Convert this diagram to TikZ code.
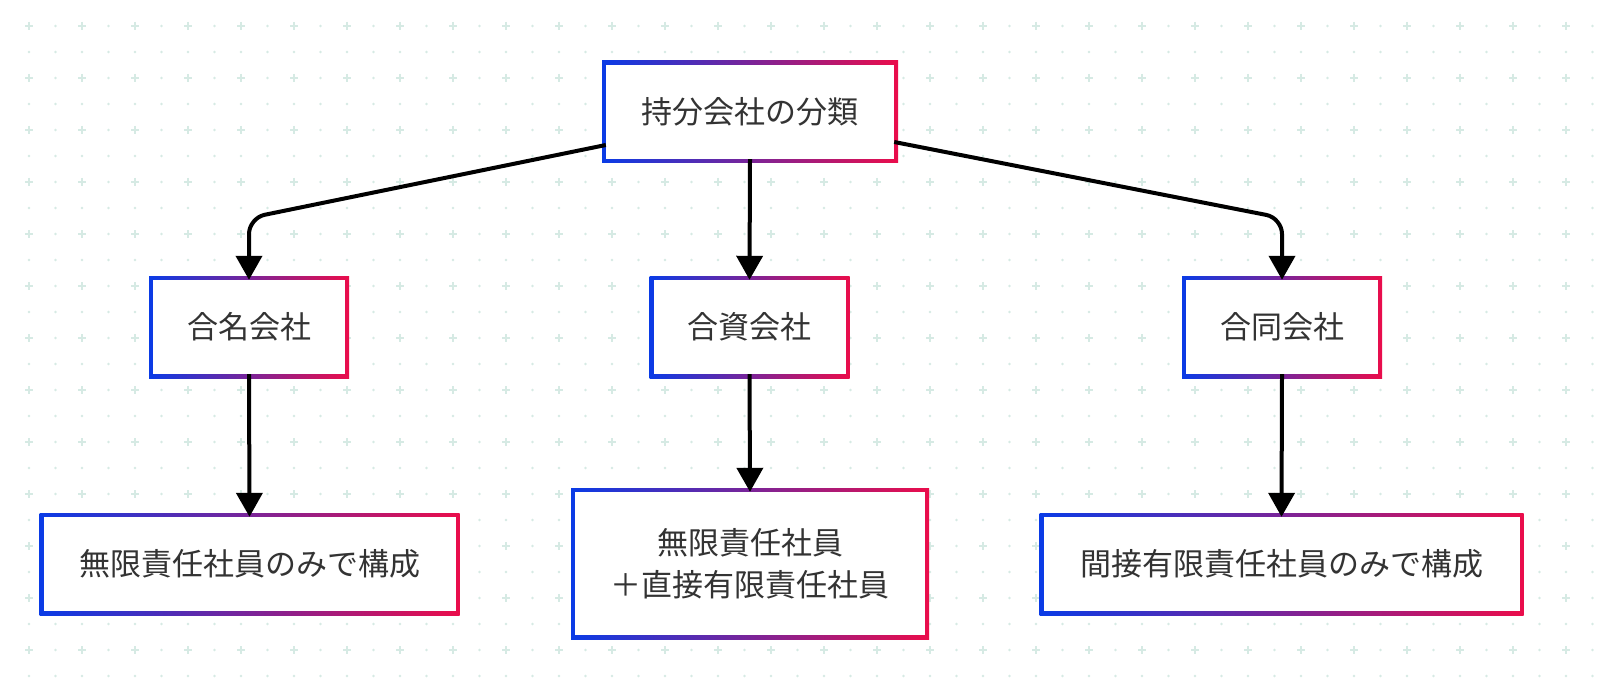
\documentclass[tikz,border=0pt]{standalone}
\usepackage{fontspec}
\setmainfont{Noto Sans CJK JP}
\usetikzlibrary{arrows.meta}
\definecolor{lb}{HTML}{0A3BE6}
\definecolor{rr}{HTML}{EA0D4B}
\definecolor{tx}{HTML}{333333}
\definecolor{gr}{HTML}{D6EAE4}
\tikzset{
  box/.style={fill=white,draw=none,inner sep=0pt,text=tx,font=\fontsize{31}{42}\selectfont,align=center},
  conn/.style={line width=4pt,black,rounded corners=16pt,-{Triangle[length=24pt,width=26pt]}},
}
\newcommand{\gbox}[6]{% name, x, y, w, h, text
  \shade[left color=lb,right color=rr] ({#2-#4/2},{#3-#5/2}) rectangle ({#2+#4/2},{#3+#5/2});
  \node[box,minimum width={#4-8},minimum height={#5-8}] (#1) at (#2,#3) {#6};
}
\begin{document}
\begin{tikzpicture}[x=1pt,y=-1pt]
\useasboundingbox (0,0) rectangle (1605,679);
\fill[white] (0,0) rectangle (1605,679);
\foreach \i in {0,...,31}{\foreach \j in {0,...,13}{
  \draw[gr,line width=1.2pt] ({\i*53+29-4},{\j*52+26}) -- ++(8,0) ({\i*53+29},{\j*52+22}) -- ++(0,8);
  \fill[gr] ({\i*53+55.5},{\j*52+26}) circle (1.3);
  \fill[gr] ({\i*53+29},{\j*52+52}) circle (1.3);
  \fill[gr] ({\i*53+55.5},{\j*52+52}) circle (1.3);
}}
\gbox{top}{750}{112}{296}{102}{持分会社の分類}
\gbox{a}{249}{327}{200}{102}{合名会社}
\gbox{b}{749.5}{327}{200}{102}{合資会社}
\gbox{c}{1282}{327}{200}{102}{合同会社}
\gbox{a2}{249.5}{564}{420}{102}{無限責任社員のみで構成}
\gbox{b2}{750}{563.5}{358}{151}{無限責任社員\\＋直接有限責任社員}
\gbox{c2}{1281.5}{564}{484}{102}{間接有限責任社員のみで構成}
\coordinate (ta) at (249,218);
\coordinate (tc) at (1282,218);
\draw[conn] (top.west |- 0,145) -- (ta) -- (a.north);
\draw[conn] (top.south) -- (b.north);
\draw[conn] (top.east |- 0,142) -- (tc) -- (c.north);
\draw[conn] (a.south) -- (a2.north);
\draw[conn] (b.south) -- (b2.north);
\draw[conn] (c.south) -- (c2.north);
\end{tikzpicture}
\end{document}
